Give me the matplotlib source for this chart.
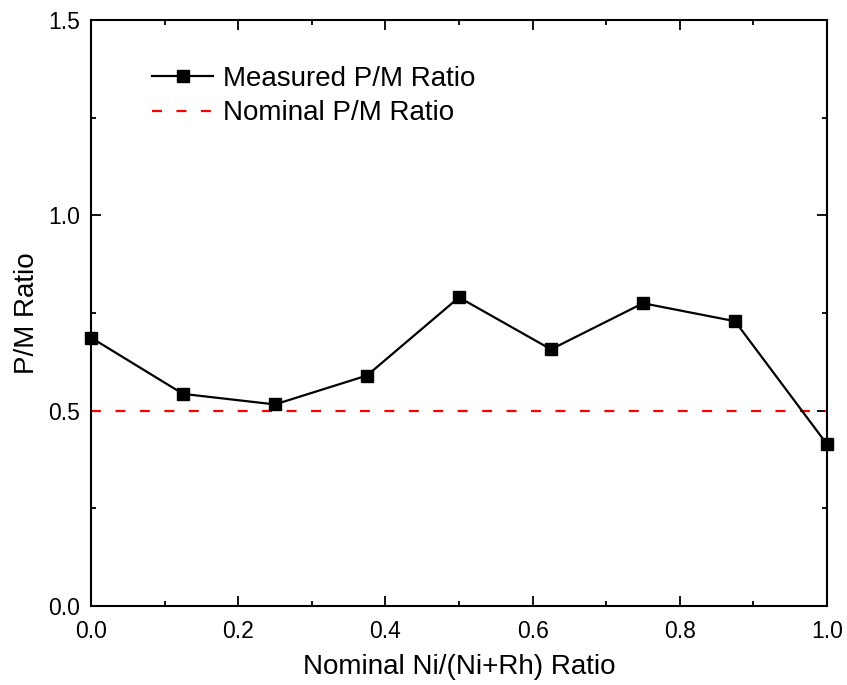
import matplotlib
matplotlib.use('Agg')
import matplotlib.pyplot as plt
from matplotlib.ticker import MultipleLocator

plt.rcParams['font.family'] = ['Liberation Sans', 'DejaVu Sans']

ni_ratio = [0.0, 0.125, 0.25, 0.375, 0.5, 0.625, 0.75, 0.875, 1.0]
measured_pm = [0.687, 0.543, 0.516, 0.590, 0.790, 0.657, 0.775, 0.729, 0.414]
nominal_x = [0.0, 1.0]
nominal_pm = [0.5, 0.5]

fig = plt.figure(figsize=(8.47, 6.85), dpi=100)
ax = fig.add_axes([0.1074, 0.1153, 0.8690, 0.8555])

ax.plot(ni_ratio, measured_pm, color='black', lw=1.6, marker='s', ms=8.5,
        label='Measured P/M Ratio', clip_on=False, zorder=3)
ax.plot(nominal_x, nominal_pm, color='red', lw=1.6, dashes=(4.5, 6.5),
        label='Nominal P/M Ratio')

ax.set_xlim(0, 1.0)
ax.set_ylim(0, 1.5)
ax.xaxis.set_major_locator(MultipleLocator(0.2))
ax.xaxis.set_minor_locator(MultipleLocator(0.1))
ax.yaxis.set_major_locator(MultipleLocator(0.5))
ax.yaxis.set_minor_locator(MultipleLocator(0.25))
ax.tick_params(which='both', direction='in', top=True, right=True,
               width=1.3, labelsize=16.5)
ax.tick_params(axis='x', which='major', pad=10)
ax.tick_params(axis='y', which='major', pad=8)
ax.tick_params(which='major', length=7)
ax.tick_params(which='minor', length=3.6)
for s in ax.spines.values():
    s.set_linewidth(1.5)

ax.set_xlabel('Nominal Ni/(Ni+Rh) Ratio', fontsize=20, labelpad=8)
ax.set_ylabel('P/M Ratio', fontsize=20, labelpad=6)

ax.legend(loc='upper left', bbox_to_anchor=(0.083, 0.922), frameon=False,
          fontsize=20, handlelength=2.2, handletextpad=0.36, labelspacing=0.31,
          borderpad=0, borderaxespad=0)

fig.savefig('out.png', dpi=100)
